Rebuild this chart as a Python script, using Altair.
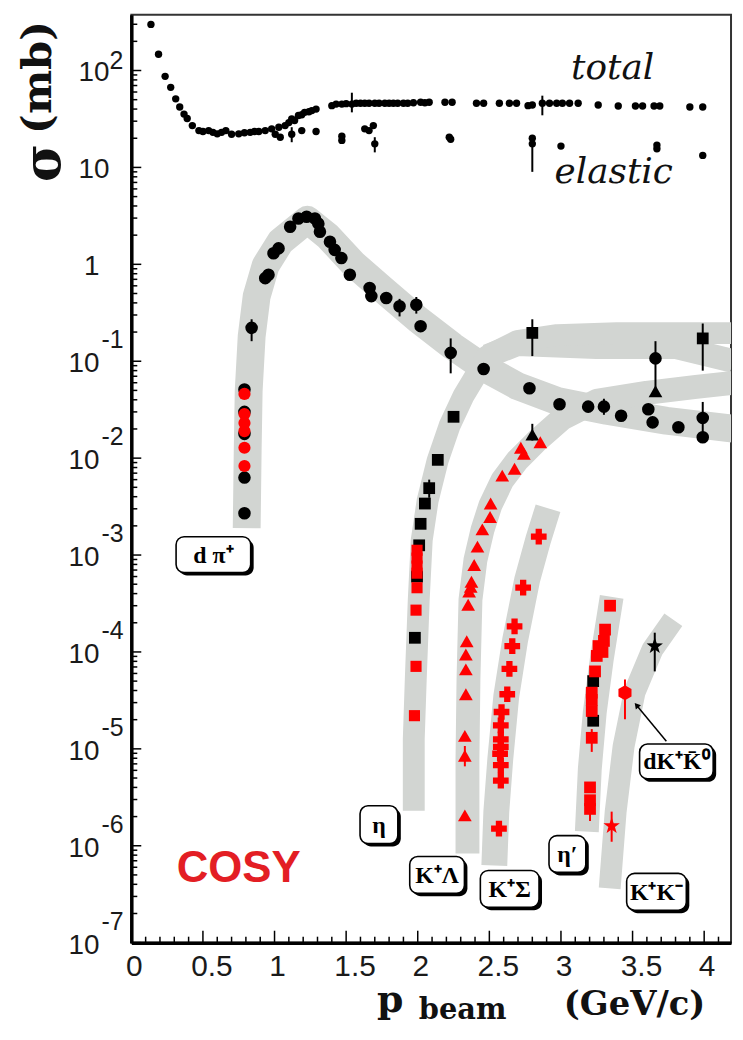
import altair as alt
import numpy as np
import pandas as pd

# ---------------- scale geometry ----------------
X_MAX = 4.1875
Y_MIN, Y_MAX = 1e-7, 376.0
W, H = 603, 933
PPX = W / X_MAX                       # px per GeV/c
PPD = H / np.log10(Y_MAX / Y_MIN)     # px per decade

BAND = "#d2d5d2"
RED = "#ff0000"
BLACK = "#000000"

# ---------------- data ----------------
total_x = [0.137, 0.19, 0.236, 0.275, 0.31, 0.338, 0.368, 0.39, 0.426, 0.472,
           0.50, 0.54, 0.57, 0.60, 0.63, 0.66, 0.70, 0.75, 0.79, 0.83,
           0.86, 0.89, 0.935, 0.98, 1.03, 1.074, 1.10, 1.12, 1.14, 1.167,
           1.19, 1.21, 1.24, 1.26, 1.29, 1.40, 1.43, 1.47, 1.50, 1.54,
           1.57, 1.60, 1.63, 1.66, 1.70, 1.73, 1.77, 1.80, 1.83, 1.86,
           1.90, 1.93, 1.97, 2.02, 2.05, 2.08, 2.19, 2.24, 2.41, 2.46,
           2.57, 2.64, 2.69, 2.77, 2.80, 2.87, 2.92, 2.97, 3.01, 3.06,
           3.12, 3.26, 3.40, 3.52, 3.57, 3.65, 3.69, 3.90, 3.99]
total_y = [299, 147, 87, 67, 51, 42, 35.5, 32, 27, 24,
           23.5, 24, 23, 22.2, 23, 24, 22, 22.2, 22.8, 23,
           23.5, 23.5, 24, 25, 26, 27, 29, 31.6, 30.5, 34.3,
           35, 37, 37.5, 38.6, 40, 43.4, 45, 45, 45.5, 45,
           46, 46, 46, 46, 46, 46, 46, 46, 46, 46,
           46, 46, 46.5, 47, 46.5, 47, 47, 47, 46, 46,
           46, 46, 46, 43.4, 44, 46, 46, 46, 46, 46,
           46, 44, 43, 43, 43, 43, 43, 42, 42]

elastic_x = [1.005, 1.04, 1.12, 1.19, 1.29, 1.47, 1.47, 1.63, 1.66, 1.69,
             1.70, 2.22, 2.23, 2.80, 2.80, 3.00, 3.67, 3.67, 3.99]
elastic_y = [22, 20.5, 22, 24, 23.5, 21, 19, 25, 24, 27,
             17.5, 20.5, 19.5, 17.5, 20, 16.6, 15.6, 17, 13.3]

dpi_black_x = [0.79, 0.79, 0.79, 0.79, 0.79, 0.84, 0.935, 0.958, 0.993, 1.028,
               1.109, 1.167, 1.224, 1.282, 1.306, 1.317, 1.387, 1.42, 1.467, 1.526,
               1.664, 1.676, 1.78, 1.873, 1.99, 2.02, 2.23, 2.46, 2.78, 2.99,
               3.19, 3.30, 3.42, 3.61, 3.64, 3.82, 3.99, 3.99, 3.66]
dpi_black_y = [0.0027, 0.0063, 0.0178, 0.030, 0.051, 0.221, 0.72, 0.78, 1.3, 1.46,
               2.44, 2.97, 3.1, 2.97, 2.63, 2.17, 1.71, 1.41, 1.16, 0.78,
               0.57, 0.47, 0.449, 0.369, 0.383, 0.23, 0.122, 0.083, 0.0527, 0.036,
               0.034, 0.034, 0.0274, 0.032, 0.0234, 0.0208, 0.026, 0.0164, 0.107]
dpi_red_x = [0.79, 0.79, 0.79, 0.79, 0.79, 0.79]
dpi_red_y = [0.046, 0.0285, 0.023, 0.019, 0.0128, 0.0083]

eta_black_x = [2.25, 2.14, 2.08, 2.05, 2.02, 2.01, 1.995, 1.98]
eta_black_y = [0.0267, 0.0096, 0.0049, 0.0034, 0.0021, 0.00126, 0.0006, 0.00014]
eta_red_x = [1.995, 1.995, 1.995, 1.995, 1.995, 1.988, 1.988, 1.977]
eta_red_y = [0.00112, 0.00093, 0.00077, 0.00065, 0.00046, 0.00027, 7.1e-5, 2.2e-5]

high_sq_x = [2.80, 3.99]
high_sq_y = [0.196, 0.172]
tri_black_x = [3.66, 2.80]
tri_black_y = [0.049, 0.0175]

kl_x = [2.856, 2.741, 2.72, 2.676, 2.59, 2.509, 2.505, 2.451, 2.417, 2.394,
        2.375, 2.37, 2.359, 2.352, 2.342, 2.336, 2.336, 2.336, 2.329, 2.329, 2.329]
kl_y = [0.0146, 0.0111, 0.0128, 0.00776, 0.0066, 0.0034, 0.00247, 0.00184, 0.00122, 0.00079,
        0.00053, 0.00047, 0.00042, 0.000307, 0.000129, 9.4e-5, 6.6e-5, 3.66e-5, 1.36e-5, 8.5e-6, 2.06e-6]

ks_x = [2.845, 2.736, 2.676, 2.66, 2.64, 2.625, 2.585, 2.58, 2.58, 2.58, 2.575, 2.58, 2.58, 2.567]
ks_y = [0.00155, 0.00046, 0.000184, 0.000115, 6.7e-5, 3.66e-5, 2.4e-5, 1.75e-5, 1.25e-5,
        1.05e-5, 8.9e-6, 6.8e-6, 4.7e-6, 1.5e-6]

etap_red_x = [3.343, 3.308, 3.30, 3.29, 3.262, 3.25, 3.238, 3.215, 3.215, 3.215, 3.215, 3.203, 3.203, 3.203]
etap_red_y = [0.0003, 0.00017, 0.00013, 0.0001, 0.000115, 9.1e-5, 6.3e-5, 3.8e-5, 3.2e-5,
              2.46e-5, 1.3e-5, 4.0e-6, 2.95e-6, 2.4e-6]
etap_black_x = [3.225, 3.225]
etap_black_y = [5.0e-5, 1.95e-5]

kk_black_x = [3.655]
kk_black_y = [1.15e-4]
kk_red_x = [3.354]
kk_red_y = [1.6e-6]
dkk_x = [3.447]
dkk_y = [3.8e-5]

# error bars
errb_x = [0.84, 1.873, 1.99, 2.23, 2.80, 3.66, 3.99, 3.30, 3.99, 2.80, 3.655, 1.54, 1.70, 2.80, 2.87, 1.12, 2.08]
errb_lo = [0.161, 0.29, 0.31, 0.075, 0.113, 0.045, 0.080, 0.028, 0.0166, 0.0152, 6.3e-5, 37, 14.3, 9.0, 34.5, 18.2, 0.0039]
errb_hi = [0.271, 0.44, 0.46, 0.172, 0.271, 0.161, 0.245, 0.041, 0.038, 0.0226, 1.58e-4, 59, 20.5, 19.5, 55, 26, 0.006]
errr_x = [3.447, 3.354, 3.215, 3.203, 2.329]
errr_lo = [2.02e-5, 1.1e-6, 9.3e-6, 1.8e-6, 6.6e-6]
errr_hi = [5.2e-5, 2.25e-6, 1.6e-5, 3.0e-6, 1.07e-5]

# grey bands (centre lines)
dpi_band_x = [0.8056, 0.8125, 0.8194, 0.8403, 0.875, 0.9375, 1.0417, 1.2292, 1.375, 1.5486,
              1.7569, 2.0, 2.2431, 2.4653, 2.6944, 2.9722, 3.3194, 3.7361, 4.2014]
dpi_band_y = [1.893e-3, 0.01197, 0.0494, 0.1814, 0.467, 0.972, 1.714, 2.884, 1.929, 1.019,
              0.551, 0.2713, 0.1432, 0.0852, 0.0556, 0.039, 0.0308, 0.0243, 0.0201]
eta_band_x = [1.9722, 1.9722, 1.9861, 2.0069, 2.0278, 2.0694, 2.1389, 2.2222, 2.3194, 2.4861,
              2.6944, 2.9722, 3.3889, 3.8056, 4.2014]
eta_band_y = [2.298e-6, 1.26e-5, 5.21e-5, 3.45e-4, 1.426e-3, 3.67e-3, 9.45e-3, 0.0216, 0.0439, 0.1131,
              0.1612, 0.1858, 0.1948, 0.1948, 0.1948]
eta_band2_x = [2.4861, 2.6944, 3.25, 3.8056, 4.2014]
eta_band2_y = [0.1131, 0.1502, 0.1399, 0.1399, 0.1005]
kl_band_x = [2.3472, 2.3472, 2.3542, 2.3681, 2.4028, 2.4514, 2.5069, 2.5903, 2.6944, 2.8333,
             3.0069, 3.25, 3.5972, 3.9444, 4.2014]
kl_band_y = [8.32e-7, 7.85e-6, 5.21e-5, 3.45e-4, 8.89e-4, 1.806e-3, 3.26e-3, 5.89e-3, 9.45e-3, 0.01516,
             0.0255, 0.039, 0.0472, 0.0543, 0.0597]
ks_band_x = [2.5347, 2.5486, 2.5764, 2.6181, 2.6806, 2.7639, 2.8403, 2.9097]
ks_band_y = [6.26e-7, 2.245e-6, 7.86e-6, 3.48e-5, 1.341e-4, 5.54e-4, 1.426e-3, 3.04e-3]
etap_band_x = [3.1806, 3.2014, 3.2361, 3.2847, 3.3542]
etap_band_y = [1.399e-6, 6.2e-6, 2.387e-5, 8.36e-5, 3.705e-4]
kk_band_x = [3.3403, 3.3819, 3.4375, 3.5139, 3.6389, 3.7847]
kk_band_y = [3.635e-7, 2.245e-6, 1.068e-5, 3.83e-5, 1.058e-4, 2.151e-4]

# channel labels
lab_text = ["d π⁺", "η", "K⁺Λ", "K⁺Σ", "η′", "K⁺K⁻", "dK⁺K̄⁰"]
lab_x = [0.573, 1.729, 2.135, 2.642, 3.045, 3.667, 3.806]
lab_y = [1.01e-3, 1.65e-6, 5.0e-7, 3.59e-7, 8.22e-7, 3.35e-7, 7.41e-6]
arrow_x = [3.736, 3.5278]
arrow_y = [1.2e-5, 2.82e-5]

# axis ticks / labels
ytick_vals = [1e-7, 1e-6, 1e-5, 1e-4, 1e-3, 1e-2, 1e-1, 1.0, 10.0, 100.0]
ytick_base = ["10", "10", "10", "10", "10", "10", "10", "1", "10", "10"]
ytick_exp = ["-7", "-6", "-5", "-4", "-3", "-2", "-1", "", "", "2"]
xtick_vals = [0, 0.5, 1, 1.5, 2, 2.5, 3, 3.5, 4]
xtick_text = ["0", "0.5", "1", "1.5", "2", "2.5", "3", "3.5", "4"]

# ---------------- chart helpers ----------------
xs = alt.Scale(domain=[0, X_MAX], nice=False, zero=False)
ys = alt.Scale(type="log", domain=[Y_MIN, Y_MAX], nice=False)
XAX = alt.Axis(title=None, labels=False, ticks=False, grid=False, domainColor="black", domainWidth=3.5)
YAX = alt.Axis(title=None, labels=False, ticks=False, grid=False, domainColor="black", domainWidth=3.5)


def X(f="x"):
    return alt.X(f"{f}:Q", scale=xs, axis=XAX)


def Y(f="y"):
    return alt.Y(f"{f}:Q", scale=ys, axis=YAX)


def band(bx, by, width):
    df = pd.DataFrame({"x": bx, "y": by, "i": list(range(len(bx)))})
    return alt.Chart(df).mark_line(color=BAND, strokeWidth=width, strokeCap="butt",
                                   strokeJoin="round", clip=True).encode(
        x=X(), y=Y(), order="i:Q")


def pts(px, py, shape, color, size):
    df = pd.DataFrame({"x": px, "y": py})
    return alt.Chart(df).mark_point(shape=shape, filled=True, color=color, size=size,
                                    opacity=1).encode(x=X(), y=Y())


def errs(ex, lo, hi, color):
    df = pd.DataFrame({"x": ex, "lo": lo, "hi": hi})
    return alt.Chart(df).mark_rule(color=color, strokeWidth=2).encode(
        x=X(), y=Y("lo"), y2=alt.Y2("hi"))


layers = []
# bands
layers.append(band(eta_band2_x, eta_band2_y, 24))
layers.append(band(dpi_band_x, dpi_band_y, 28))
layers.append(band(eta_band_x, eta_band_y, 22))
layers.append(band(kl_band_x, kl_band_y, 24))
layers.append(band(ks_band_x, ks_band_y, 26))
layers.append(band(etap_band_x, etap_band_y, 24))
layers.append(band(kk_band_x, kk_band_y, 22))

# inward ticks
ymaj = ytick_vals
ymin = [k * 10.0 ** e for e in range(-7, 3) for k in range(2, 10) if k * 10.0 ** e <= Y_MAX]
xmaj = xtick_vals
xmin = [round(0.1 * i, 1) for i in range(1, 42) if i % 5 != 0]
for vals, L in ((ymaj, 10), (ymin, 6)):
    df = pd.DataFrame({"y": vals, "x": 0.0, "x2": L / PPX})
    layers.append(alt.Chart(df).mark_rule(color=BLACK, strokeWidth=1.5).encode(
        x=X(), x2=alt.X2("x2"), y=Y()))
for vals, L in ((xmaj, 12), (xmin, 6)):
    df = pd.DataFrame({"x": vals, "y": Y_MIN, "y2": Y_MIN * 10 ** (L / PPD)})
    layers.append(alt.Chart(df).mark_rule(color=BLACK, strokeWidth=1.5).encode(
        x=X(), y=Y(), y2=alt.Y2("y2")))

# label boxes
box_size = {"d π⁺": (75, 36), "η": (38, 38), "K⁺Λ": (55, 37), "K⁺Σ": (59, 37),
            "η′": (37, 37), "K⁺K⁻": (60, 37), "dK⁺K̄⁰": (74, 35)}
for t, lx, ly in zip(lab_text, lab_x, lab_y):
    bw, bh = box_size[t]
    df = pd.DataFrame({"x": [lx], "y": [ly], "t": [t]})
    base = alt.Chart(df)
    layers.append(base.mark_rect(xOffset=-bw / 2 + 3, x2Offset=bw / 2 + 3,
                                 yOffset=-bh / 2 + 3, y2Offset=bh / 2 + 3,
                                 cornerRadius=8, color=BLACK).encode(
        x=X(), x2=alt.X2("x"), y=Y(), y2=alt.Y2("y")))
    layers.append(base.mark_rect(xOffset=-bw / 2, x2Offset=bw / 2,
                                 yOffset=-bh / 2, y2Offset=bh / 2,
                                 cornerRadius=8, fill="white", stroke=BLACK,
                                 strokeWidth=1.6).encode(
        x=X(), x2=alt.X2("x"), y=Y(), y2=alt.Y2("y")))
    layers.append(base.mark_text(font="Liberation Serif", fontWeight="bold", fontSize=24,
                                 baseline="middle", align="center", dy=1,
                                 color=BLACK).encode(x=X(), y=Y(), text="t:N"))

# arrow for dK+K0bar
adf = pd.DataFrame({"x": arrow_x, "y": arrow_y, "i": [0, 1]})
layers.append(alt.Chart(adf).mark_line(color=BLACK, strokeWidth=1.5).encode(
    x=X(), y=Y(), order="i:Q"))
layers.append(alt.Chart(adf.iloc[[1]]).mark_point(shape="triangle-up", filled=True,
                                                  color=BLACK, size=45, angle=320,
                                                  opacity=1).encode(x=X(), y=Y()))

# error bars
layers.append(errs(errb_x, errb_lo, errb_hi, BLACK))
layers.append(errs(errr_x, errr_lo, errr_hi, RED))

STAR = ("M0,-1L0.235,-0.324L0.951,-0.309L0.38,0.124L0.588,0.809L0,0.4L-0.588,0.809"
        "L-0.38,0.124L-0.951,-0.309L-0.235,-0.324Z")
HEX = "M0,-1L0.866,-0.5L0.866,0.5L0,1L-0.866,0.5L-0.866,-0.5Z"

# markers
layers.append(pts(total_x, total_y, "circle", BLACK, 55))
layers.append(pts(elastic_x, elastic_y, "circle", BLACK, 55))
layers.append(pts(dpi_black_x, dpi_black_y, "circle", BLACK, 160))
layers.append(pts(dpi_red_x, dpi_red_y, "circle", RED, 150))
layers.append(pts(eta_black_x, eta_black_y, "square", BLACK, 140))
layers.append(pts(eta_red_x, eta_red_y, "square", RED, 125))
layers.append(pts(high_sq_x, high_sq_y, "square", BLACK, 140))
layers.append(pts(tri_black_x, tri_black_y, "triangle-up", BLACK, 190))
layers.append(pts(kl_x, kl_y, "triangle-up", RED, 190))
layers.append(pts(ks_x, ks_y, "cross", RED, 250))
layers.append(pts(etap_black_x, etap_black_y, "square", BLACK, 140))
layers.append(pts(etap_red_x, etap_red_y, "square", RED, 140))
layers.append(pts(kk_black_x, kk_black_y, STAR, BLACK, 300))
layers.append(pts(kk_red_x, kk_red_y, STAR, RED, 300))
layers.append(pts(dkk_x, dkk_y, HEX, RED, 230))


# annotations inside the plot
def note(t, x, y, **kw):
    df = pd.DataFrame({"x": [x], "y": [y], "t": [t]})
    return alt.Chart(df).mark_text(**kw).encode(x=X(), y=Y(), text="t:N")


layers.append(note("total", 3.361, 104.8, font="DejaVu Serif", fontStyle="italic",
                   fontSize=36, color="#111111", baseline="middle", align="center"))
layers.append(note("elastic", 3.368, 8.97, font="DejaVu Serif", fontStyle="italic",
                   fontSize=36, color="#111111", baseline="middle", align="center"))
layers.append(note("COSY", 0.75, 5.69e-7, font="Liberation Sans", fontWeight="bold",
                   fontSize=44, color="#e31e24", baseline="middle", align="center"))

# y tick labels (10 with superscript exponents)
ylab = pd.DataFrame({"y": ytick_vals, "base": ytick_base, "exp": ytick_exp})
LAB = dict(font="Liberation Sans", color="#1a1a1a")
layers.append(alt.Chart(ylab).transform_filter("datum.y < 5").mark_text(
    align="right", baseline="middle", fontSize=28, dy=3, **LAB).encode(
    x=alt.value(-32), y=Y(), text="base:N"))
layers.append(alt.Chart(ylab).transform_filter("datum.y > 5").mark_text(
    align="right", baseline="middle", fontSize=28, dy=3, **LAB).encode(
    x=alt.value(-22), y=Y(), text="base:N"))
layers.append(alt.Chart(ylab).transform_filter("datum.y < 0.5").mark_text(
    align="left", baseline="middle", fontSize=25, dy=-21, **LAB).encode(
    x=alt.value(-30), y=Y(), text="exp:N"))
layers.append(alt.Chart(ylab).transform_filter("datum.y > 50").mark_text(
    align="left", baseline="middle", fontSize=25, dy=-10, **LAB).encode(
    x=alt.value(-22), y=Y(), text="exp:N"))

# x tick labels
xlab = pd.DataFrame({"x": xtick_vals, "t": xtick_text})
layers.append(alt.Chart(xlab).transform_filter("datum.x % 1 == 0").mark_text(
    align="center", baseline="top", fontSize=30, dx=3, **LAB).encode(
    x=X(), y=alt.value(H + 10), text="t:N"))
layers.append(alt.Chart(xlab).transform_filter("datum.x % 1 != 0").mark_text(
    align="center", baseline="top", fontSize=30, dx=9, **LAB).encode(
    x=X(), y=alt.value(H + 10), text="t:N"))


# axis titles
def title(t, x, y, **kw):
    df = pd.DataFrame({"t": [t]})
    return alt.Chart(df).mark_text(**kw).encode(x=alt.value(x), y=alt.value(y), text="t:N")


TF = dict(font="DejaVu Serif", fontWeight="bold", color="#111111")
layers.append(title("σ", -88, 149, angle=270, fontSize=52, align="center", baseline="middle", **TF))
layers.append(title("(mb)", -94, 63, angle=270, fontSize=42, align="center", baseline="middle", **TF))
layers.append(title("p", 247, 1003, fontSize=38, align="left", baseline="alphabetic", **TF))
layers.append(title("beam", 289, 1010, fontSize=29, align="left", baseline="alphabetic", **TF))
layers.append(title("(GeV/c)", 506, 1006, fontSize=34, align="center", baseline="alphabetic", **TF))

chart = alt.layer(*layers).properties(
    width=W, height=H,
    autosize=alt.AutoSizeParams(type="none"),
    padding={"left": 124, "top": 4, "right": 4, "bottom": 84},
    background="white",
).configure_view(stroke="#333333", strokeWidth=2)

chart.save("out.html", embed_options={"renderer": "svg", "actions": False})
